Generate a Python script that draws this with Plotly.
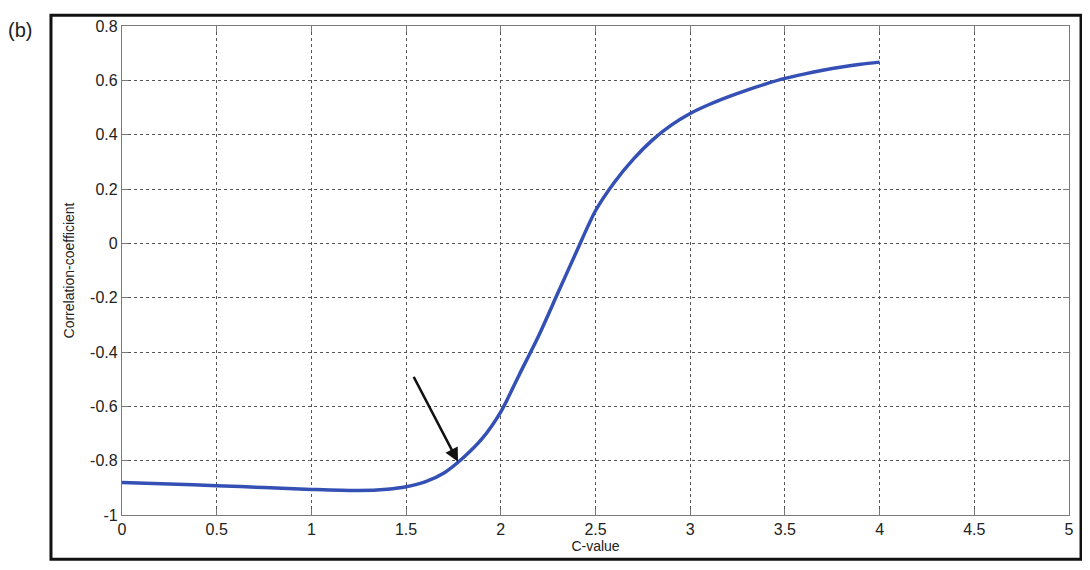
import plotly.graph_objects as go

c_value = [0, 0.25, 0.5, 0.75, 1.0, 1.25, 1.4, 1.5, 1.6, 1.7, 1.8, 1.9, 2.0,
           2.1, 2.2, 2.3, 2.4, 2.5, 2.6, 2.7, 2.8, 2.9, 3.0, 3.1, 3.2, 3.3, 3.4, 3.5,
           3.6, 3.7, 3.8, 3.9, 4.0]
corr = [-0.88, -0.886, -0.892, -0.899, -0.906, -0.91, -0.905, -0.896, -0.878, -0.845,
        -0.79, -0.72, -0.62, -0.48, -0.34, -0.185, -0.03, 0.12, 0.225, 0.31,
        0.38, 0.435, 0.478, 0.511, 0.539, 0.564, 0.587, 0.607, 0.623, 0.637, 0.649,
        0.659, 0.667]

x_ticks = [0, 0.5, 1, 1.5, 2, 2.5, 3, 3.5, 4, 4.5, 5]
x_tick_text = ["0", "0.5", "1", "1.5", "2", "2.5", "3", "3.5", "4", "4.5", "5"]
y_ticks = [-1, -0.8, -0.6, -0.4, -0.2, 0, 0.2, 0.4, 0.6, 0.8]
y_tick_text = ["-1", "-0.8", "-0.6", "-0.4", "-0.2", "0", "0.2", "0.4", "0.6", "0.8"]

arrow_tail = (1.536, -0.486)
arrow_head = (1.774, -0.804)

FONT = "Liberation Sans, Arial, sans-serif"

fig = go.Figure()
fig.add_trace(go.Scatter(x=c_value, y=corr, mode="lines",
                         line=dict(color="#3450b4", width=3.5, shape="spline", smoothing=0.8),
                         showlegend=False))

axis_common = dict(showline=True, linecolor="#7a7a7a", linewidth=1.2, mirror="ticks",
                   ticks="inside", ticklen=6, tickcolor="#7a7a7a",
                   showgrid=True, gridcolor="#555555", griddash="dot", gridwidth=1,
                   zeroline=False, tickfont=dict(family=FONT, size=16, color="#222222"))

fig.update_xaxes(range=[0, 5], tickvals=x_ticks, ticktext=x_tick_text,
                 title=dict(text="C-value", font=dict(family=FONT, size=14, color="#222222"),
                            standoff=0),
                 **axis_common)
fig.update_yaxes(range=[-1, 0.8], tickvals=y_ticks, ticktext=y_tick_text,
                 title=dict(text="Correlation-coefficient",
                            font=dict(family=FONT, size=14, color="#222222"), standoff=12),
                 **axis_common)

fig.add_annotation(x=arrow_head[0], y=arrow_head[1], ax=arrow_tail[0], ay=arrow_tail[1],
                   xref="x", yref="y", axref="x", ayref="y", text="", showarrow=True,
                   arrowhead=2, arrowsize=1.1, arrowwidth=2.5, arrowcolor="#111111")

fig.add_annotation(x=-0.1077, y=0.992, xref="paper", yref="paper", text="(b)",
                   showarrow=False, font=dict(family=FONT, size=20, color="#222222"),
                   xanchor="center", yanchor="middle")

fig.add_shape(type="rect", xref="paper", yref="paper",
              x0=-0.075, x1=1.0127, y0=-0.0905, y1=1.0221,
              line=dict(color="#111111", width=3), fillcolor="rgba(0,0,0,0)", layer="above")

fig.update_layout(width=1082, height=562,
                  margin=dict(l=114, r=21, t=10, b=55),
                  paper_bgcolor="white", plot_bgcolor="white")

fig.write_html("out.html")
